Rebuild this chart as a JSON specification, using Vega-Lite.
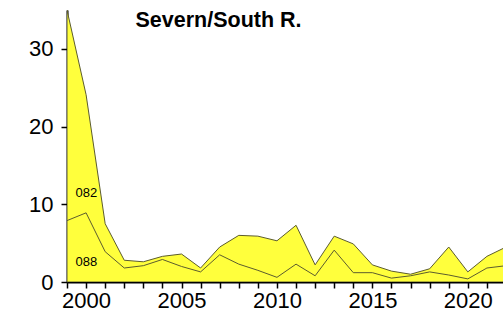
{
  "$schema": "https://vega.github.io/schema/vega-lite/v6.json",
  "autosize": "none",
  "width": 439,
  "height": 272,
  "padding": {"left": 67, "top": 10, "right": 0, "bottom": 35},
  "background": "white",
  "config": {
    "view": {"stroke": null},
    "font": "Liberation Sans",
    "axis": {"grid": false, "domainColor": "black", "domainWidth": 2, "tickColor": "black", "tickWidth": 1.5, "tickSize": 6, "labelFont": "Liberation Sans", "labelFontSize": 22, "labelColor": "black", "title": null}
  },
  "data": {
    "values": [
      {"year": 1999, "s082": 35.0, "s088": 7.9},
      {"year": 2000, "s082": 24.1, "s088": 8.9},
      {"year": 2001, "s082": 7.5, "s088": 3.9},
      {"year": 2002, "s082": 2.8, "s088": 1.8},
      {"year": 2003, "s082": 2.6, "s088": 2.1},
      {"year": 2004, "s082": 3.3, "s088": 2.9},
      {"year": 2005, "s082": 3.6, "s088": 2.0},
      {"year": 2006, "s082": 1.8, "s088": 1.3},
      {"year": 2007, "s082": 4.5, "s088": 3.5},
      {"year": 2008, "s082": 6.0, "s088": 2.3},
      {"year": 2009, "s082": 5.9, "s088": 1.5},
      {"year": 2010, "s082": 5.3, "s088": 0.6},
      {"year": 2011, "s082": 7.3, "s088": 2.3},
      {"year": 2012, "s082": 2.2, "s088": 0.8},
      {"year": 2013, "s082": 5.9, "s088": 4.1},
      {"year": 2014, "s082": 4.9, "s088": 1.2},
      {"year": 2015, "s082": 2.2, "s088": 1.2},
      {"year": 2016, "s082": 1.4, "s088": 0.5},
      {"year": 2017, "s082": 1.0, "s088": 0.8},
      {"year": 2018, "s082": 1.7, "s088": 1.3},
      {"year": 2019, "s082": 4.5, "s088": 0.9},
      {"year": 2020, "s082": 1.3, "s088": 0.4},
      {"year": 2021, "s082": 3.3, "s088": 1.8},
      {"year": 2022, "s082": 4.5, "s088": 2.1}
    ]
  },
  "encoding": {
    "x": {"field": "year", "type": "quantitative", "scale": {"domain": [1999, 2022], "nice": false, "zero": false}, "axis": {"values": [1999,2000,2001,2002,2003,2004,2005,2006,2007,2008,2009,2010,2011,2012,2013,2014,2015,2016,2017,2018,2019,2020,2021,2022], "labelExpr": "datum.value % 5 === 0 ? datum.value : ''", "format": "d", "labelPadding": 2, "labelFlush": false, "labelOverlap": false, "labelBound": false}}
  },
  "layer": [
    {
      "mark": {"type": "area", "color": "#ffff3c", "stroke": "#5c5c2e", "strokeWidth": 1, "clip": true},
      "encoding": {
        "y": {"field": "s082", "type": "quantitative", "scale": {"domain": [0, 35], "nice": false}, "axis": {"values": [0, 10, 20, 30], "labelPadding": 8}}
      }
    },
    {
      "mark": {"type": "line", "color": "#5c5c2e", "strokeWidth": 1, "clip": true},
      "encoding": {
        "y": {"field": "s088", "type": "quantitative"}
      }
    },
    {
      "data": {"values": [{"year": 2006.94, "y": 32.8, "t": "Severn/South R."}]},
      "mark": {"type": "text", "fontSize": 21.5, "fontWeight": "bold", "align": "center", "baseline": "alphabetic", "color": "black"},
      "encoding": {"y": {"field": "y", "type": "quantitative"}, "text": {"field": "t"}}
    },
    {
      "data": {"values": [{"year": 1999.45, "y": 10.94, "t": "082"}, {"year": 1999.45, "y": 2.06, "t": "088"}]},
      "mark": {"type": "text", "fontSize": 13, "align": "left", "baseline": "alphabetic", "color": "black"},
      "encoding": {"y": {"field": "y", "type": "quantitative"}, "text": {"field": "t"}}
    }
  ]
}
